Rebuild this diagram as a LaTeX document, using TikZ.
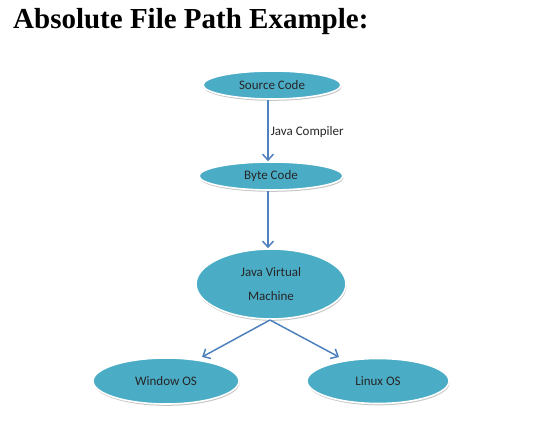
\documentclass[tikz,border=0pt]{standalone}
\usepackage{fontspec}
\setmainfont{Carlito}
\newfontfamily\titlefont{Liberation Serif}
\usetikzlibrary{shapes.geometric,arrows.meta,shadows}
\definecolor{aqua}{HTML}{4BACC6}
\definecolor{arrowblue}{HTML}{4F81BD}
\tikzset{
  oval/.style={ellipse, fill=aqua, draw=white, line width=1.6pt, inner sep=0pt,
    font=\fontsize{13}{24}\selectfont, text=black!85, align=center,
    drop shadow={shadow xshift=0.6pt, shadow yshift=-1.8pt, fill=black!45}},
  conn/.style={draw=arrowblue, line width=1.5pt, -{Straight Barb[length=6pt,width=11pt]}}
}
\begin{document}
\begin{tikzpicture}[x=1pt,y=-1pt]
\useasboundingbox (0,0) rectangle (546,430);
\node[anchor=base west, inner sep=0pt, font=\titlefont\bfseries\fontsize{29}{30}\selectfont] (title) at (13,29) {Absolute File Path Example:};
\node[oval, minimum width=138pt, minimum height=28pt] (src) at (272,85) {Source Code};
\node[oval, minimum width=144pt, minimum height=28pt] (byte) at (271,176) {Byte Code};
\node[oval, minimum width=150pt, minimum height=70pt] (jvm) at (271,284) {Java Virtual\\Machine};
\node[oval, minimum width=146pt, minimum height=46pt] (win) at (166,381) {Window OS};
\node[oval, minimum width=142pt, minimum height=45pt] (lin) at (378,381) {Linux OS};
\draw[conn] (src.south -| 268,0) -- (byte.north -| 268,0) node[midway, right, inner sep=2pt, yshift=-2pt, font=\fontsize{13}{14}\selectfont, text=black!85] (lbl) {Java Compiler};
\draw[conn] (byte.south -| 268,0) -- (jvm.north -| 268,0);
\coordinate (jb) at (270,320);
\draw[conn] (jb) -- (202,357);
\draw[conn] (jb) -- (339,357);
\end{tikzpicture}
\end{document}
